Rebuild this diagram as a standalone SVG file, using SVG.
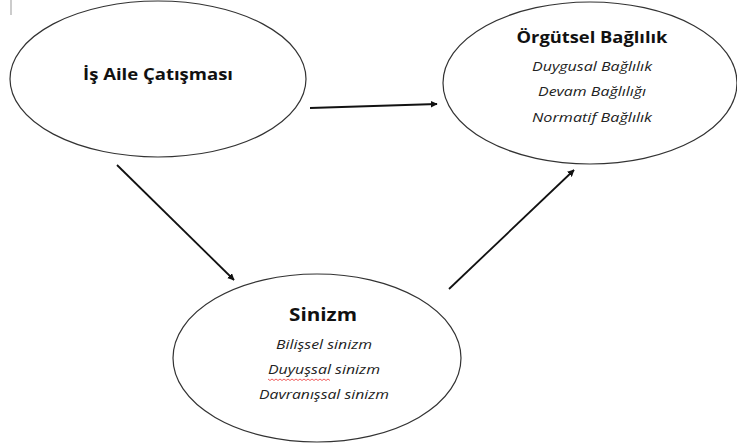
<svg xmlns="http://www.w3.org/2000/svg" width="737" height="448" viewBox="0 0 737 448">
<defs>
<marker id="ah" viewBox="0 0 10 10" refX="9" refY="5" markerWidth="7" markerHeight="7" orient="auto" markerUnits="userSpaceOnUse">
<path d="M0,0 L10,5 L0,10 z" fill="#111"/>
</marker>
<style>
.node ellipse{fill:#fff;stroke:#333;stroke-width:1.2}
.t{font-family:"Open Sans","DejaVu Sans",sans-serif;font-weight:bold;fill:#111;text-anchor:middle}
.s{font-family:"Open Sans","DejaVu Sans",sans-serif;font-style:italic;fill:#222;text-anchor:middle;font-size:13.5px}
.c line{stroke:#111;stroke-width:1.8;marker-end:url(#ah)}
</style>
</defs>
<rect width="737" height="448" fill="#fff"/>
<line x1="11" y1="0" x2="11" y2="15" stroke="#999" stroke-width="1"/>
<g id="node-is-aile" class="node">
<ellipse cx="158" cy="79" rx="148" ry="78"/>
<text class="t" x="158" y="80" font-size="16" textLength="150" lengthAdjust="spacingAndGlyphs">İş Aile Çatışması</text>
</g>
<g id="node-orgutsel" class="node">
<ellipse cx="590" cy="83" rx="147" ry="81"/>
<text class="t" x="592" y="43" font-size="16.5" textLength="151" lengthAdjust="spacingAndGlyphs">Örgütsel Bağlılık</text>
<text class="s" x="592" y="71" textLength="120" lengthAdjust="spacingAndGlyphs">Duygusal Bağlılık</text>
<text class="s" x="592" y="96" textLength="108" lengthAdjust="spacingAndGlyphs">Devam Bağlılığı</text>
<text class="s" x="592" y="122" textLength="120" lengthAdjust="spacingAndGlyphs">Normatif Bağlılık</text>
</g>
<g id="node-sinizm" class="node">
<ellipse cx="317" cy="358" rx="144" ry="84"/>
<text class="t" x="323" y="321" font-size="17" textLength="68" lengthAdjust="spacingAndGlyphs">Sinizm</text>
<text class="s" x="324" y="349" textLength="96" lengthAdjust="spacingAndGlyphs">Bilişsel sinizm</text>
<text class="s" x="324" y="374" textLength="112" lengthAdjust="spacingAndGlyphs">Duyuşsal sinizm</text>
<text class="s" x="324" y="399" textLength="130" lengthAdjust="spacingAndGlyphs">Davranışsal sinizm</text>
<path d="M268,379 l2,1.5 l2,-1.5 l2,1.5 l2,-1.5 l2,1.5 l2,-1.5 l2,1.5 l2,-1.5 l2,1.5 l2,-1.5 l2,1.5 l2,-1.5 l2,1.5 l2,-1.5 l2,1.5 l2,-1.5 l2,1.5 l2,-1.5 l2,1.5 l2,-1.5 l2,1.5 l2,-1.5 l2,1.5 l2,-1.5 l2,1.5 l2,-1.5 l2,1.5 l2,-1.5 l2,1.5 l2,-1.5 l2,1.5" fill="none" stroke="#e33" stroke-width="0.8"/>
</g>
<g id="connectors" class="c">
<line x1="310" y1="108" x2="437" y2="104"/>
<line x1="117" y1="165" x2="234" y2="280"/>
<line x1="449" y1="289" x2="574" y2="170"/>
</g>
</svg>
